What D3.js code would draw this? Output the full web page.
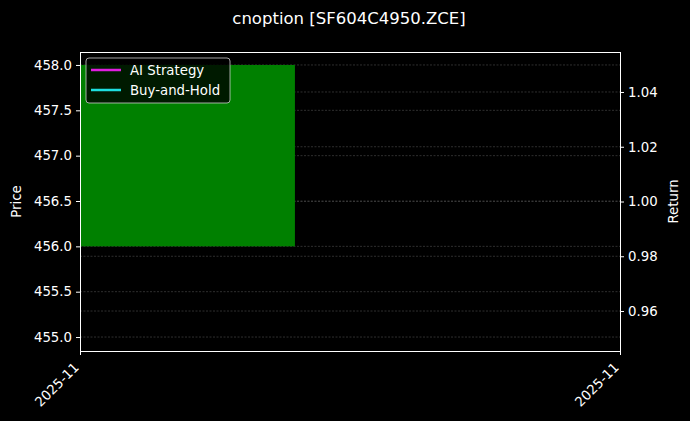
<!DOCTYPE html>
<html>
<head>
<meta charset="utf-8">
<script src="https://cdn.jsdelivr.net/npm/d3@7"></script>
<style>
  body { margin: 0; background: #000; }
  svg { display: block; font-family: "DejaVu Sans", sans-serif; }
</style>
</head>
<body>
<svg width="690" height="421"></svg>
<script>
// data
const xTickLabels = ["2025-11", "2025-11"];
const xTicks = [0, 1];
const barStart = [0];
const barEnd = [0.398];
const barLow = [456.0];
const barHigh = [458.0];
const priceTicks = [455.0, 455.5, 456.0, 456.5, 457.0, 457.5, 458.0];
const returnTicks = [0.96, 0.98, 1.00, 1.02, 1.04];
const seriesNames = ["AI Strategy", "Buy-and-Hold"];
const seriesColors = ["#e01ee0", "#1ee0e0"];

const svg = d3.select("svg");
const width = +svg.attr("width");
const height = +svg.attr("height");
const fs = "13.3px";

// plot area
const m = { top: 52, right: 70, bottom: 70, left: 80 };
const iw = width - m.left - m.right;
const ih = height - m.top - m.bottom;

const x = d3.scaleLinear().domain([0, 1]).range([m.left, m.left + iw]);
const yP = d3.scaleLinear().domain([454.846, 458.143]).range([m.top + ih, m.top]);
const yR = d3.scaleLinear().domain([0.9454, 1.0546]).range([m.top + ih, m.top]);

svg.append("rect").attr("width", width).attr("height", height).attr("fill", "#000");

// grids
const grid = svg.append("g").attr("stroke", "#444").attr("stroke-width", 0.7)
  .attr("stroke-dasharray", "2,1.5");
grid.selectAll(".gp").data(priceTicks).join("line")
  .attr("x1", m.left).attr("x2", m.left + iw)
  .attr("y1", d => yP(d)).attr("y2", d => yP(d));
grid.selectAll(".gr").data(returnTicks).join("line")
  .attr("x1", m.left).attr("x2", m.left + iw)
  .attr("y1", d => yR(d)).attr("y2", d => yR(d));

// bar
svg.selectAll(".bar").data(barLow).join("rect")
  .attr("x", (d, i) => x(barStart[i]))
  .attr("width", (d, i) => x(barEnd[i]) - x(barStart[i]))
  .attr("y", (d, i) => yP(barHigh[i]))
  .attr("height", (d, i) => yP(barLow[i]) - yP(barHigh[i]))
  .attr("fill", "#008000");

// axes
function styleAxis(g) {
  g.selectAll("path, line").attr("stroke", "#fff");
  g.selectAll("text").attr("fill", "#fff").style("font-size", fs)
    .style("font-family", "DejaVu Sans, sans-serif");
}

svg.append("g").attr("transform", `translate(${m.left},0)`)
  .call(d3.axisLeft(yP).tickValues(priceTicks).tickFormat(d3.format(".1f")).tickSize(4).tickPadding(4))
  .call(styleAxis).call(g => g.select(".domain").remove());

svg.append("g").attr("transform", `translate(${m.left + iw},0)`)
  .call(d3.axisRight(yR).tickValues(returnTicks).tickFormat(d3.format(".2f")).tickSize(4).tickPadding(4))
  .call(styleAxis).call(g => g.select(".domain").remove());

const xa = svg.append("g").attr("transform", `translate(0,${m.top + ih})`)
  .call(d3.axisBottom(x).tickValues(xTicks).tickFormat((d, i) => xTickLabels[i]).tickSize(4))
  .call(styleAxis).call(g => g.select(".domain").remove());
xa.selectAll("text")
  .attr("text-anchor", "end")
  .attr("dy", "0.35em")
  .attr("transform", "translate(-4,14) rotate(-45)")
  .attr("x", 0).attr("y", 0);

// frame
svg.append("rect").attr("x", m.left + 0.5).attr("y", m.top + 0.5).attr("width", iw).attr("height", ih)
  .attr("fill", "none").attr("stroke", "#fff").attr("stroke-width", 1)
  .attr("shape-rendering", "crispEdges");

// labels
svg.append("text").attr("x", width / 2 + 4).attr("y", 24).attr("text-anchor", "middle")
  .attr("fill", "#fff").style("font-size", "16.5px").text("cnoption [SF604C4950.ZCE]");
svg.append("text").attr("transform", `translate(21,${m.top + ih / 2}) rotate(-90)`)
  .attr("text-anchor", "middle").attr("fill", "#fff").style("font-size", fs).text("Price");
svg.append("text").attr("transform", `translate(678,${m.top + ih / 2}) rotate(-90)`)
  .attr("text-anchor", "middle").attr("fill", "#fff").style("font-size", fs).text("Return");

// legend
const lg = svg.append("g").attr("transform", "translate(86,58)");
lg.append("rect").attr("width", 144).attr("height", 45).attr("rx", 3)
  .attr("fill", "#000").attr("fill-opacity", 0.8).attr("stroke", "#ccc").attr("stroke-width", 0.8);
seriesNames.forEach((name, i) => {
  const row = lg.append("g").attr("transform", `translate(0,${12 + i * 20})`);
  row.append("line").attr("x1", 5).attr("x2", 35).attr("stroke", seriesColors[i]).attr("stroke-width", 2.5);
  row.append("text").attr("x", 44).attr("dy", "0.35em").attr("fill", "#fff")
    .style("font-size", fs).text(name);
});
</script>
</body>
</html>
